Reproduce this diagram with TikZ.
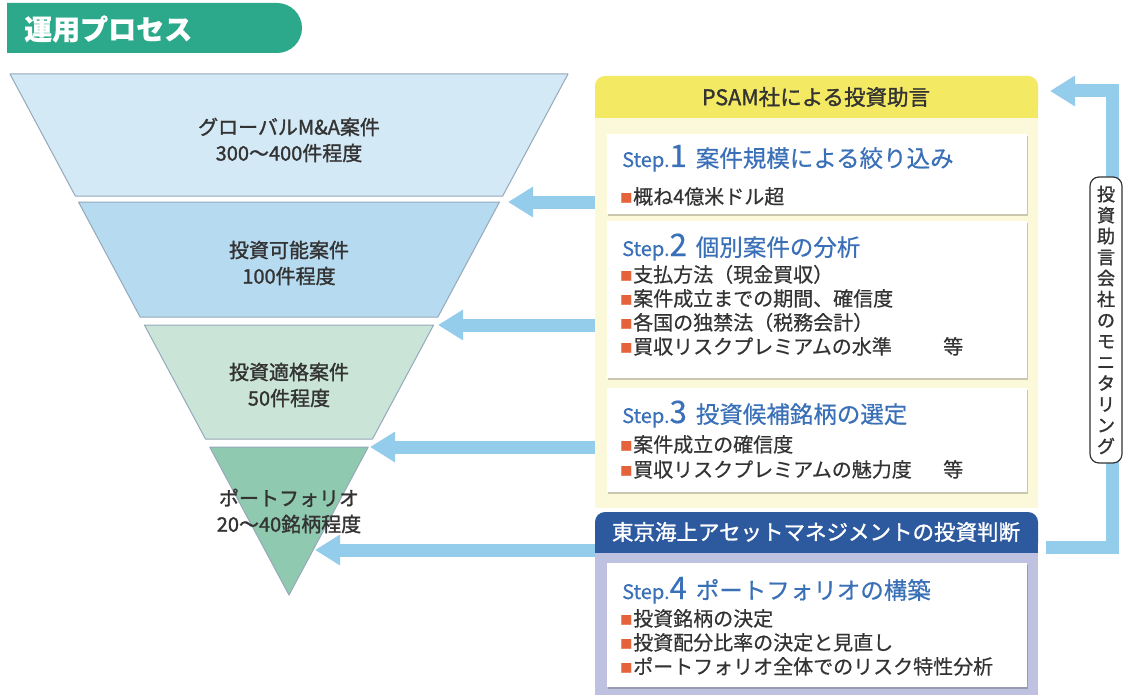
\documentclass[tikz,border=0pt]{standalone}
\usepackage{fontspec}
\setmainfont{Noto Sans CJK JP}[FakeBold=0.5]
\newfontfamily\jpmed{Noto Sans CJK JP}[FakeBold=1.3]
\usetikzlibrary{arrows.meta,shadows}
\definecolor{titlegreen}{HTML}{2BA98A}
\definecolor{sliceA}{HTML}{D4E9F6}
\definecolor{sliceB}{HTML}{B6DAF0}
\definecolor{sliceC}{HTML}{CAE5D7}
\definecolor{sliceD}{HTML}{8FC9AF}
\definecolor{sliceedge}{HTML}{95A9BA}
\definecolor{arrowblue}{HTML}{94CCEB}
\definecolor{hdryellow}{HTML}{F3E963}
\definecolor{paleyellow}{HTML}{FCF9DA}
\definecolor{navy}{HTML}{2D5A9E}
\definecolor{lavender}{HTML}{BEC1DF}
\definecolor{titleblue}{HTML}{3A70B7}
\definecolor{bulletred}{HTML}{E4633B}
\definecolor{ink}{HTML}{333333}
\newcommand{\mybul}{{\color{bulletred}\raisebox{1.5pt}{\fontsize{12}{12}\selectfont ■}}\hspace{1pt}}
\newcommand{\mystep}[2]{{\fontsize{20}{20}\selectfont Step.}{\fontsize{31}{31}\selectfont #1}\hspace{9pt}{\fontsize{23.5}{23.5}\selectfont #2}}
\tikzset{
  slice/.style={draw=sliceedge, line width=1pt, line join=round},
  flabel/.style={font=\jpmed\fontsize{20}{26}\selectfont, text=ink, align=center, inner sep=0pt},
  feed/.style={draw=arrowblue, line width=13pt, -{Triangle[length=25pt,width=29pt]}},
  stepbox/.style={fill=white, inner sep=0pt, anchor=north west, drop shadow={shadow xshift=1.2pt, shadow yshift=-1.5pt, fill=black, opacity=0.2}},
  steptitle/.style={anchor=base west, inner sep=0pt, text=titleblue},
  item/.style={anchor=base west, inner sep=0pt, text=ink, font=\fontsize{20}{20}\selectfont},
  hdr/.style={inner sep=0pt, font=\jpmed\fontsize{21.5}{21.5}\selectfont},
}
\begin{document}
\begin{tikzpicture}[x=1pt,y=-1pt]
\path[use as bounding box, fill=white] (0,0) rectangle (1126,695);
% title banner
\fill[titlegreen] (7,3) -- (277,3) arc[start angle=-90, end angle=90, radius=25] -- (7,53) -- cycle;
\node[anchor=west, inner sep=0pt, text=white, font=\fontsize{28}{28}\bfseries] (title) at (24,29) {運用プロセス};
% funnel
\fill[sliceA] (10,74) -- (568,74) -- (502.7,196) -- (75.3,196) -- cycle;
\draw[slice] (10,74) -- (568,74) -- (502.7,196) -- (75.3,196) -- cycle;
\fill[sliceB] (78.5,202) -- (499.5,202) -- (437.9,317) -- (140.1,317) -- cycle;
\draw[slice] (78.5,202) -- (499.5,202) -- (437.9,317) -- (140.1,317) -- cycle;
\fill[sliceC] (144.4,325) -- (433.6,325) -- (372.5,439) -- (205.5,439) -- cycle;
\draw[slice] (144.4,325) -- (433.6,325) -- (372.5,439) -- (205.5,439) -- cycle;
\fill[sliceD] (209.7,447) -- (368.3,447) -- (289,595) -- cycle;
\draw[slice] (209.7,447) -- (368.3,447) -- (289,595) -- cycle;
\node[flabel] (f1) at (289,140) {グローバルM\&A案件\\300～400件程度};
\node[flabel] (f2) at (289,263) {投資可能案件\\100件程度};
\node[flabel] (f3) at (289,385) {投資適格案件\\50件程度};
\node[flabel] (f4) at (289,511) {ポートフォリオ\\20～40銘柄程度};
% arrows to funnel
\coordinate (a1s) at (640,202); \coordinate (a1e) at (508,202);
\coordinate (a2s) at (640,325); \coordinate (a2e) at (438,325);
\coordinate (a3s) at (640,447); \coordinate (a3e) at (370,447);
\coordinate (a4s) at (640,550); \coordinate (a4e) at (315,550);
\draw[feed] (a1s) -- (a1e);
\draw[feed] (a2s) -- (a2e);
\draw[feed] (a3s) -- (a3e);
\draw[feed] (a4s) -- (a4e);
% yellow panel
\fill[paleyellow, rounded corners=10pt] (595,76) rectangle (1038,508);
\fill[paleyellow] (595,300) rectangle (1038,508);
\fill[hdryellow, rounded corners=10pt] (595,76) rectangle (1038,118);
\fill[hdryellow] (595,100) rectangle (1038,118);
\node[hdr, text=ink] (psam) at (816,97) {PSAM社による投資助言};
% step boxes
\node[stepbox, minimum width=420pt, minimum height=80pt] (s1) at (607,134) {};
\node[stepbox, minimum width=420pt, minimum height=157pt] (s2) at (607,221) {};
\node[stepbox, minimum width=420pt, minimum height=104pt] (s3) at (607,388) {};
\node[steptitle] (t1) at (622,167) {\mystep{1}{案件規模による絞り込み}};
\node[item] (i11) at (620,204) {\mybul 概ね4億米ドル超};
\node[steptitle] (t2) at (622,256) {\mystep{2}{個別案件の分析}};
\node[item] (i21) at (620,282) {\mybul 支払方法（現金買収）};
\node[item] (i22) at (620,306) {\mybul 案件成立までの期間、確信度};
\node[item] (i23) at (620,330) {\mybul 各国の独禁法（税務会計）};
\node[item] (i24) at (620,354) {\mybul \makebox[310pt][l]{買収リスクプレミアムの水準}等};
\node[steptitle] (t3) at (622,423) {\mystep{3}{投資候補銘柄の選定}};
\node[item] (i31) at (620,452) {\mybul 案件成立の確信度};
\node[item] (i32) at (620,477) {\mybul \makebox[310pt][l]{買収リスクプレミアムの魅力度}等};
% navy header and lavender panel
\fill[navy, rounded corners=10pt] (595,512) rectangle (1038,553);
\fill[navy] (595,535) rectangle (1038,553);
\fill[lavender] (595,553) rectangle (1038,695);
\node[hdr, text=white] (tmam) at (816,532) {東京海上アセットマネジメントの投資判断};
\node[stepbox, minimum width=420pt, minimum height=124pt] (s4) at (607,563) {};
\node[steptitle] (t4) at (622,599) {\mystep{4}{ポートフォリオの構築}};
\node[item] (i41) at (620,626) {\mybul 投資銘柄の決定};
\node[item] (i42) at (620,650) {\mybul 投資配分比率の決定と見直し};
\node[item] (i43) at (620,674) {\mybul ポートフォリオ全体でのリスク特性分析};
% monitoring loop
\coordinate (l0) at (1046,547); \coordinate (l1) at (1112,547);
\coordinate (l2) at (1112,91); \coordinate (l3) at (1050,91);
\draw[feed, line join=miter] (l0) -- (l1) -- (l2) -- (l3);
\node[draw=ink, fill=white, rounded corners=9pt, line width=1.2pt, minimum width=32pt, minimum height=286pt, inner sep=0pt, font=\jpmed\fontsize{18}{21}\selectfont, align=center, text=ink] (mon) at (1106,320) {投\\資\\助\\言\\会\\社\\の\\モ\\ニ\\タ\\リ\\ン\\グ};
\end{tikzpicture}
\end{document}
